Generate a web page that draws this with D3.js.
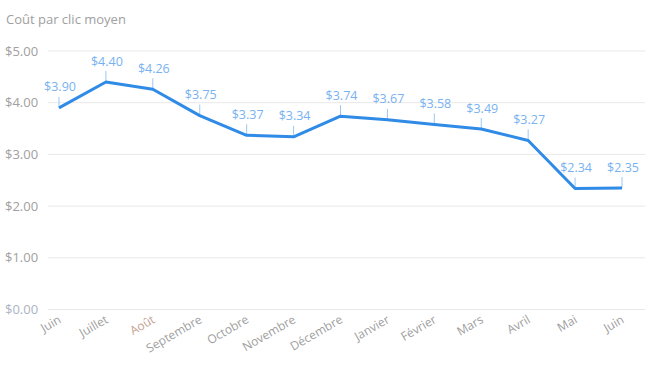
<!DOCTYPE html>
<meta charset="utf-8">
<style>
body { margin: 0; background: #fff; }
text { font-family: "Open Sans", "DejaVu Sans", sans-serif; }
</style>
<body>
<script src="https://cdnjs.cloudflare.com/ajax/libs/d3/7.8.5/d3.min.js"></script>
<script>
var months = ["Juin", "Juillet", "Août", "Septembre", "Octobre", "Novembre", "Décembre",
              "Janvier", "Février", "Mars", "Avril", "Mai", "Juin "];
var cpc = [3.90, 4.40, 4.26, 3.75, 3.37, 3.34, 3.74, 3.67, 3.58, 3.49, 3.27, 2.34, 2.35];
var yTicks = [0, 1, 2, 3, 4, 5];

var width = 665, height = 369;
var svg = d3.select("body").append("svg")
  .attr("width", width)
  .attr("height", height);

var x = d3.scalePoint().domain(months).range([59, 622]);
var y = d3.scaleLinear().domain([0, 5]).range([309.5, 51]);

svg.append("text")
  .attr("x", 6).attr("y", 24)
  .attr("font-size", 13)
  .attr("fill", "#a0a0a0")
  .text("Coût par clic moyen");

// grid + y labels
var grid = svg.append("g");
grid.selectAll("line").data(yTicks).enter().append("line")
  .attr("x1", 48).attr("x2", 645)
  .attr("y1", function(d) { return y(d); })
  .attr("y2", function(d) { return y(d); })
  .attr("stroke", "#e8e8e8").attr("stroke-width", 1);
grid.selectAll("text").data(yTicks).enter().append("text")
  .attr("x", 5)
  .attr("y", function(d) { return y(d) + 4.5; })
  .attr("font-size", 13)
  .attr("fill", function(d) { return d == 0 ? "#aab4c2" : "#a0a0a0"; })
  .text(function(d) { return "$" + d.toFixed(2); });

// x labels
svg.append("g").selectAll("text").data(months).enter().append("text")
  .attr("transform", function(d) { return "translate(" + (x(d) + 3) + ",322) rotate(-30)"; })
  .attr("text-anchor", "end")
  .attr("font-size", 12)
  .attr("fill", function(d) { return d == "Août" ? "#c4a494" : "#a0a0a0"; })
  .text(function(d) { return d.trim(); });

var pts = months.map(function(m, i) { return {m: m, v: cpc[i]}; });

// value ticks and labels
var lab = svg.append("g");
lab.selectAll("line").data(pts).enter().append("line")
  .attr("x1", function(d) { return x(d.m); })
  .attr("x2", function(d) { return x(d.m); })
  .attr("y1", function(d) { return y(d.v); })
  .attr("y2", function(d) { return y(d.v) - 11; })
  .attr("stroke", "#9cc8f4").attr("stroke-width", 1);
lab.selectAll("text.val").data(pts).enter().append("text")
  .attr("class", "val")
  .attr("x", function(d) { return x(d.m) + 1; })
  .attr("y", function(d) { return y(d.v) - 16.5; })
  .attr("text-anchor", "middle")
  .attr("font-size", 12.5)
  .attr("fill", "#78b2f0")
  .text(function(p) { return "$" + p.v.toFixed(2); });

var line = d3.line()
  .x(function(d) { return x(d.m); })
  .y(function(d) { return y(d.v); });

svg.append("path")
  .datum(pts)
  .attr("d", line)
  .attr("fill", "none")
  .attr("stroke", "#2f8be6")
  .attr("stroke-width", 3)
  .attr("stroke-linejoin", "round");
</script>
</body>
